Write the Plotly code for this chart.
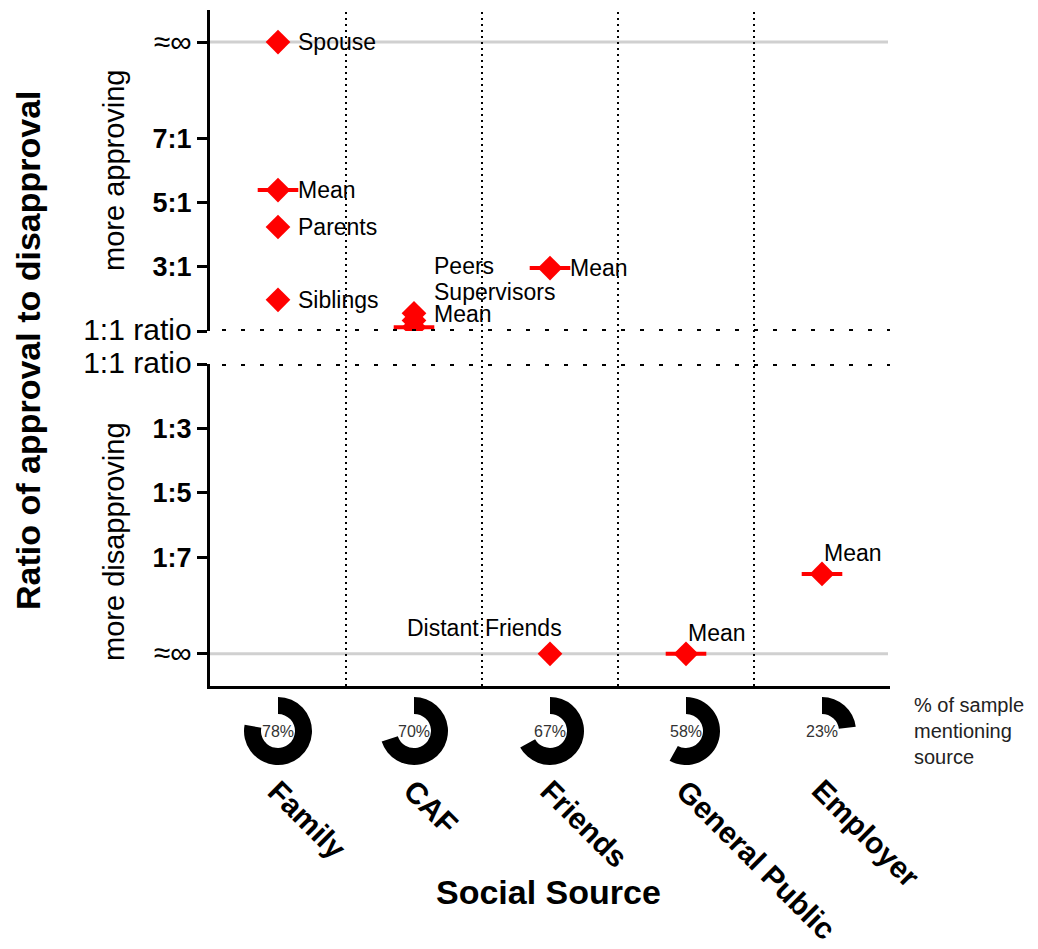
import plotly.graph_objects as go

# ---------------- data ----------------
categories = ["Family", "CAF", "Friends", "General Public", "Employer"]
pct_mentioning = [78, 70, 67, 58, 23]

INF = 10  # value used to draw the "≈∞" level

# approving panel (upper)
approve_labels = ["Spouse", "Parents", "Siblings", "Peers", "Supervisors"]
approve_source = ["Family", "Family", "Family", "CAF", "CAF"]
approve_ratio = [INF, 4.24, 1.97, 1.55, 1.33]

approve_mean_source = ["Family", "CAF", "Friends"]
approve_mean_ratio = [5.39, 1.12, 2.96]

# disapproving panel (lower)
disapprove_labels = ["Distant Friends"]
disapprove_source = ["Friends"]
disapprove_ratio = [INF]

disapprove_mean_source = ["General Public", "Employer"]
disapprove_mean_ratio = [INF, 7.52]

BIG = '<span style="font-size:30px">{}</span>'
up_tickvals = [1, 3, 5, 7, INF]
up_ticktext = [BIG.format("1:1 ratio"), "<b>3:1</b>", "<b>5:1</b>", "<b>7:1</b>", BIG.format("≈∞")]
low_tickvals = [1, 3, 5, 7, INF]
low_ticktext = [BIG.format("1:1 ratio"), "<b>1:3</b>", "<b>1:5</b>", "<b>1:7</b>", BIG.format("≈∞")]

# ---------------- layout helpers ----------------
W, H = 1038, 949
OFF = 8  # page body margin in the browser
FONT = "Liberation Sans, Arial, sans-serif"
RED = "#ff0000"

def px_x(p):
    return (p - OFF) / W

def px_y(p):
    return 1 - (p - OFF) / H

X0, X1 = 210, 890
UP_TOP, UP_BOT = 10, 331
LO_TOP, LO_BOT = 364, 686
DONUT_Y, DONUT_R = 731, 34

fig = go.Figure()

# mean bars (horizontal line glyph) drawn first
for xs, ys, ya in [(approve_mean_source, approve_mean_ratio, "y"),
                   (disapprove_mean_source, disapprove_mean_ratio, "y2")]:
    fig.add_trace(go.Scatter(x=xs, y=ys, mode="markers",
                             marker=dict(symbol="line-ew", size=29, line=dict(width=4, color=RED)),
                             xaxis="x", yaxis=ya, showlegend=False, hoverinfo="skip"))
# diamonds
for xs, ys, ya in [(approve_source, approve_ratio, "y"),
                   (approve_mean_source, approve_mean_ratio, "y"),
                   (disapprove_source, disapprove_ratio, "y2"),
                   (disapprove_mean_source, disapprove_mean_ratio, "y2")]:
    fig.add_trace(go.Scatter(x=xs, y=ys, mode="markers",
                             marker=dict(symbol="diamond", size=19, color=RED),
                             xaxis="x", yaxis=ya, showlegend=False, hoverinfo="skip"))

# donuts
for i, (cat, p) in enumerate(zip(categories, pct_mentioning)):
    cx = X0 + (i + 0.5) * (X1 - X0) / len(categories)
    fig.add_trace(go.Pie(values=[p, 100 - p], sort=False, direction="clockwise", rotation=0,
                         hole=0.5, textinfo="none", hoverinfo="skip", showlegend=False,
                         marker=dict(colors=["black", "rgba(0,0,0,0)"], line=dict(width=0)),
                         domain=dict(x=[px_x(cx - DONUT_R), px_x(cx + DONUT_R)],
                                     y=[px_y(DONUT_Y + DONUT_R), px_y(DONUT_Y - DONUT_R)])))

annotations = []
lab_font = dict(family=FONT, size=23, color="black")

# point labels
for lab, s, v in zip(approve_labels, approve_source, approve_ratio):
    ysh = {"Peers": 47, "Supervisors": 28}.get(lab, 0)
    annotations.append(dict(x=s, y=v, xref="x", yref="y", text=lab, showarrow=False,
                            xanchor="left", yanchor="middle", xshift=18, yshift=ysh, font=lab_font))
for s, v in zip(approve_mean_source, approve_mean_ratio):
    ysh = 13 if s == "CAF" else 0
    annotations.append(dict(x=s, y=v, xref="x", yref="y", text="Mean", showarrow=False,
                            xanchor="left", yanchor="middle", xshift=18, yshift=ysh, font=lab_font))
for lab, s, v in zip(disapprove_labels, disapprove_source, disapprove_ratio):
    annotations.append(dict(x=s, y=v, xref="x", yref="y2", text=lab, showarrow=False,
                            xanchor="center", yanchor="middle", xshift=-66, yshift=26, font=lab_font))
for s, v in zip(disapprove_mean_source, disapprove_mean_ratio):
    annotations.append(dict(x=s, y=v, xref="x", yref="y2", text="Mean", showarrow=False,
                            xanchor="left", yanchor="middle", xshift=0, yshift=21, font=lab_font))

# donut percentages
for i, p in enumerate(pct_mentioning):
    annotations.append(dict(x=i, y=px_y(DONUT_Y), xref="x", yref="paper", text=f"{p}%",
                            showarrow=False, xanchor="center", yanchor="middle",
                            font=dict(family=FONT, size=16, color="#333333")))
annotations.append(dict(x=px_x(912), y=px_y(731), xref="paper", yref="paper",
                        text="% of sample<br>mentioning<br>source", showarrow=False,
                        xanchor="left", yanchor="middle", align="left",
                        font=dict(family=FONT, size=20, color="#222222")))

# category labels (rotated)
for i, c in enumerate(categories):
    annotations.append(dict(x=i - 0.14, y=px_y(771), xref="x", yref="paper", text=f"<b>{c}</b>",
                            showarrow=False, textangle=45, xanchor="left", yanchor="top",
                            font=dict(family=FONT, size=30, color="black")))

annotations.append(dict(x=px_x(548), y=px_y(892), xref="paper", yref="paper",
                        text="<b>Social Source</b>", showarrow=False,
                        xanchor="center", yanchor="middle",
                        font=dict(family=FONT, size=34, color="black")))
annotations.append(dict(x=px_x(28), y=px_y(350), xref="paper", yref="paper",
                        text="<b>Ratio of approval to disapproval</b>", showarrow=False,
                        xanchor="center", yanchor="middle",
                        textangle=-90, font=dict(family=FONT, size=34, color="black")))
annotations.append(dict(x=px_x(114), y=px_y(170), xref="paper", yref="paper",
                        text="more approving", showarrow=False, textangle=-90,
                        xanchor="center", yanchor="middle",
                        font=dict(family=FONT, size=29, color="black")))
annotations.append(dict(x=px_x(114), y=px_y(542), xref="paper", yref="paper",
                        text="more disapproving", showarrow=False, textangle=-90,
                        xanchor="center", yanchor="middle",
                        font=dict(family=FONT, size=29, color="black")))

shapes = []
# ≈∞ reference lines
for ya in ["y", "y2"]:
    shapes.append(dict(type="line", xref="paper", yref=ya, x0=px_x(X0), x1=px_x(888),
                       y0=INF, y1=INF, line=dict(color="#d0d0d0", width=3), layer="below"))
# 1:1 dotted lines
for ya in ["y", "y2"]:
    shapes.append(dict(type="line", xref="paper", yref=ya, x0=px_x(X0 + 12), x1=px_x(X1),
                       y0=1, y1=1, line=dict(color="black", width=4, dash="4px,15px")))
# category separators
for k in range(1, len(categories)):
    shapes.append(dict(type="line", xref="x", yref="paper", x0=k - 0.5, x1=k - 0.5,
                       y0=px_y(LO_BOT), y1=px_y(UP_TOP),
                       line=dict(color="black", width=2, dash="2px,4px"), layer="below"))

tickfont = dict(family=FONT, size=27, color="black")
fig.update_layout(
    template="none",
    width=W, height=H, autosize=False,
    margin=dict(l=0, r=0, t=0, b=0, pad=0, autoexpand=False),
    paper_bgcolor="white", plot_bgcolor="white",
    font=dict(family=FONT, color="black"),
    xaxis=dict(domain=[px_x(X0), px_x(X1)], anchor="y2", type="category",
               categoryorder="array", categoryarray=categories, automargin=False,
               range=[-0.5, len(categories) - 0.5], showticklabels=False, ticks="",
               showline=True, linewidth=3, linecolor="black", showgrid=False, zeroline=False),
    yaxis=dict(domain=[px_y(UP_BOT), px_y(UP_TOP)], anchor="x", range=[1, 11], automargin=False,
               tickvals=up_tickvals, ticktext=up_ticktext, tickfont=tickfont,
               ticks="outside", ticklen=10, tickwidth=3, tickcolor="black",
               showline=True, linewidth=3, linecolor="black", showgrid=False, zeroline=False),
    yaxis2=dict(domain=[px_y(LO_BOT), px_y(LO_TOP)], anchor="x", range=[11, 1], automargin=False,
                tickvals=low_tickvals, ticktext=low_ticktext, tickfont=tickfont,
                ticks="outside", ticklen=10, tickwidth=3, tickcolor="black",
                showline=True, linewidth=3, linecolor="black", showgrid=False, zeroline=False),
    annotations=annotations, shapes=shapes,
)

fig.write_html("out.html")
